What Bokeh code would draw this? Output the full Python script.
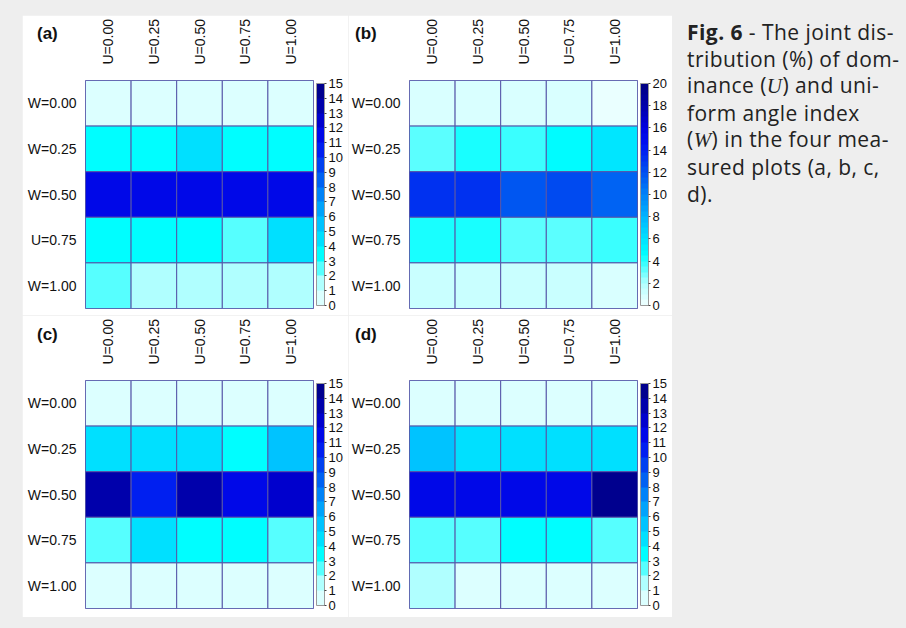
import numpy as np
from bokeh.plotting import figure
from bokeh.models import (ColumnDataSource, LinearColorMapper, ColorBar, FixedTicker,
                          Div, FactorRange)
from bokeh.layouts import row, column
from bokeh.embed import file_html
from bokeh.resources import INLINE

# ---------------- data ----------------
u_labels = ["U=0.00", "U=0.25", "U=0.50", "U=0.75", "U=1.00"]
w_labels = ["W=0.00", "W=0.25", "W=0.50", "W=0.75", "W=1.00"]
w_labels_a = ["W=0.00", "W=0.25", "W=0.50", "U=0.75", "W=1.00"]   # as printed in panel (a)

# rows: W=0.00 ... W=1.00 ; columns: U=0.00 ... U=1.00  (joint distribution, %)
vals_a = [[0.8, 0.8, 0.8, 0.8, 0.8],
          [3.5, 3.5, 4.5, 3.5, 3.5],
          [11.5, 11.5, 11.5, 11.0, 11.5],
          [3.5, 3.5, 3.5, 2.9, 4.5],
          [2.5, 1.8, 1.8, 1.8, 1.8]]
vals_b = [[0.5, 0.5, 0.5, 0.5, 0.3],
          [3.0, 4.0, 3.5, 4.5, 5.5],
          [13.0, 13.0, 11.5, 12.0, 11.0],
          [4.0, 4.0, 3.0, 3.0, 3.5],
          [1.2, 1.2, 1.2, 1.2, 0.5]]
vals_c = [[0.8, 0.8, 0.8, 0.8, 0.8],
          [4.5, 4.5, 4.5, 3.5, 5.5],
          [13.5, 10.5, 13.5, 11.5, 12.5],
          [2.5, 4.5, 3.5, 3.5, 2.5],
          [0.8, 0.8, 0.8, 0.8, 0.8]]
vals_d = [[0.8, 0.8, 0.8, 0.8, 0.8],
          [5.5, 4.5, 4.5, 4.5, 4.5],
          [11.8, 11.8, 11.8, 11.2, 14.5],
          [2.5, 2.5, 3.5, 3.5, 2.5],
          [1.8, 0.8, 0.8, 0.8, 0.8]]

max_acd = 15
max_b = 20
ticks_acd = list(range(0, 16, 1))
ticks_b = list(range(0, 21, 2))

panel_tags = ["(a)", "(b)", "(c)", "(d)"]

# ---------------- style ----------------
FONT = "Liberation Sans"
GRID = "#5656a8"
anchors = [(0.0, "#f2ffff"), (0.1, "#b0ffff"), (0.23, "#00ffff"), (0.4, "#00b4ff"),
           (0.6, "#0050f0"), (0.73, "#0010f0"), (0.8, "#0000e0"), (0.87, "#0000b8"),
           (1.0, "#000080")]


def h2r(h):
    return np.array([int(h[i:i + 2], 16) for i in (1, 3, 5)], dtype=float)


def palette(n):
    ts = [a[0] for a in anchors]
    cs = [h2r(a[1]) for a in anchors]
    out = []
    for i in range(n):
        t = (i + 0.5) / n
        k = max(j for j in range(len(ts) - 1) if ts[j] <= t)
        f = (t - ts[k]) / (ts[k + 1] - ts[k])
        c = cs[k] * (1 - f) + cs[k + 1] * f
        out.append("#%02x%02x%02x" % tuple(int(round(v)) for v in c))
    return out


def make_panel(wl, vals, vmax, nbands, ticks, left, right, bottom):
    xs, ys, vs = [], [], []
    for r, wlab in enumerate(wl):
        for c, ulab in enumerate(u_labels):
            xs.append(ulab)
            ys.append(wlab)
            vs.append(vals[r][c])
    src = ColumnDataSource(dict(u=xs, w=ys, v=vs))
    mapper = LinearColorMapper(palette=palette(nbands), low=0, high=vmax)

    p = figure(frame_width=228, frame_height=228,
               x_range=FactorRange(factors=u_labels),
               y_range=FactorRange(factors=list(reversed(wl))),
               x_axis_location="above", output_backend="svg", toolbar_location=None,
               min_border_left=left, min_border_top=65, min_border_bottom=bottom,
               min_border_right=right, border_fill_color="white",
               background_fill_color="white", outline_line_color=GRID)
    p.rect(x="u", y="w", width=1, height=1, source=src,
           fill_color={"field": "v", "transform": mapper},
           line_color=GRID, line_width=1)
    p.grid.visible = False
    for ax in (p.xaxis[0], p.yaxis[0]):
        ax.axis_line_color = None
        ax.major_tick_line_color = None
        ax.minor_tick_line_color = None
        ax.major_label_text_font = FONT
        ax.major_label_text_font_size = "14px"
        ax.major_label_text_color = "#111111"
    p.xaxis.major_label_orientation = "vertical"
    p.xaxis.major_label_standoff = 10
    p.yaxis.major_label_standoff = 3

    cb = ColorBar(color_mapper=mapper, ticker=FixedTicker(ticks=ticks), width=8,
                  major_label_text_font=FONT, major_label_text_font_size="13px",
                  major_label_text_color="#111111",
                  major_tick_in=0, major_tick_out=2, major_tick_line_color="#444444",
                  bar_line_color="#999999", label_standoff=2, padding=3, margin=0,
                  border_line_color=None, background_fill_color=None)
    p.add_layout(cb, "right")
    return p


pa = make_panel(w_labels_a, vals_a, max_acd, 15, ticks_acd, 63, 32, 7)
pb = make_panel(w_labels, vals_b, max_b, 40, ticks_b, 58, 34, 7)
pc = make_panel(w_labels, vals_c, max_acd, 15, ticks_acd, 63, 32, 9)
pd = make_panel(w_labels, vals_d, max_acd, 15, ticks_acd, 58, 34, 9)

grid = column(row(pa, pb), row(pc, pd), margin=(15, 0, 11, 22))

ital = "<span style=\"font-family:'Liberation Serif','DejaVu Serif',serif;font-style:italic;\">"
caption_html = ("<b>Fig. 6</b> - The joint dis-<br>tribution (%) of dom-<br>"
                "inance (" + ital + "U</span>) and uni-<br>form angle index<br>"
                "(" + ital + "W</span>) in the four mea-<br>sured plots (a, b, c,<br>d).")
caption = Div(
    text=caption_html,
    width=226, margin=(19, 0, 0, 15),
    styles={"font-family": "'Open Sans', sans-serif", "font-size": "21px",
            "line-height": "26.6px", "color": "#222222", "white-space": "nowrap",
            "letter-spacing": "0.45px"})

# panel tags, placed over the white panel area
tag_pos = [(32, 19), (350, 19), (32, 320), (350, 320)]
tags = [Div(text="<b>" + t + "</b>",
            styles={"position": "absolute", "left": "%dpx" % x, "top": "%dpx" % y,
                    "z-index": "10", "font-family": "'Liberation Sans', Arial, sans-serif",
                    "font-size": "17px", "line-height": "20px", "color": "#111111"})
        for t, (x, y) in zip(panel_tags, tag_pos)]

p = row(grid, caption, *tags, styles={"background-color": "#eeeeee", "position": "relative"})

open("out.html", "w").write(file_html(p, INLINE))
